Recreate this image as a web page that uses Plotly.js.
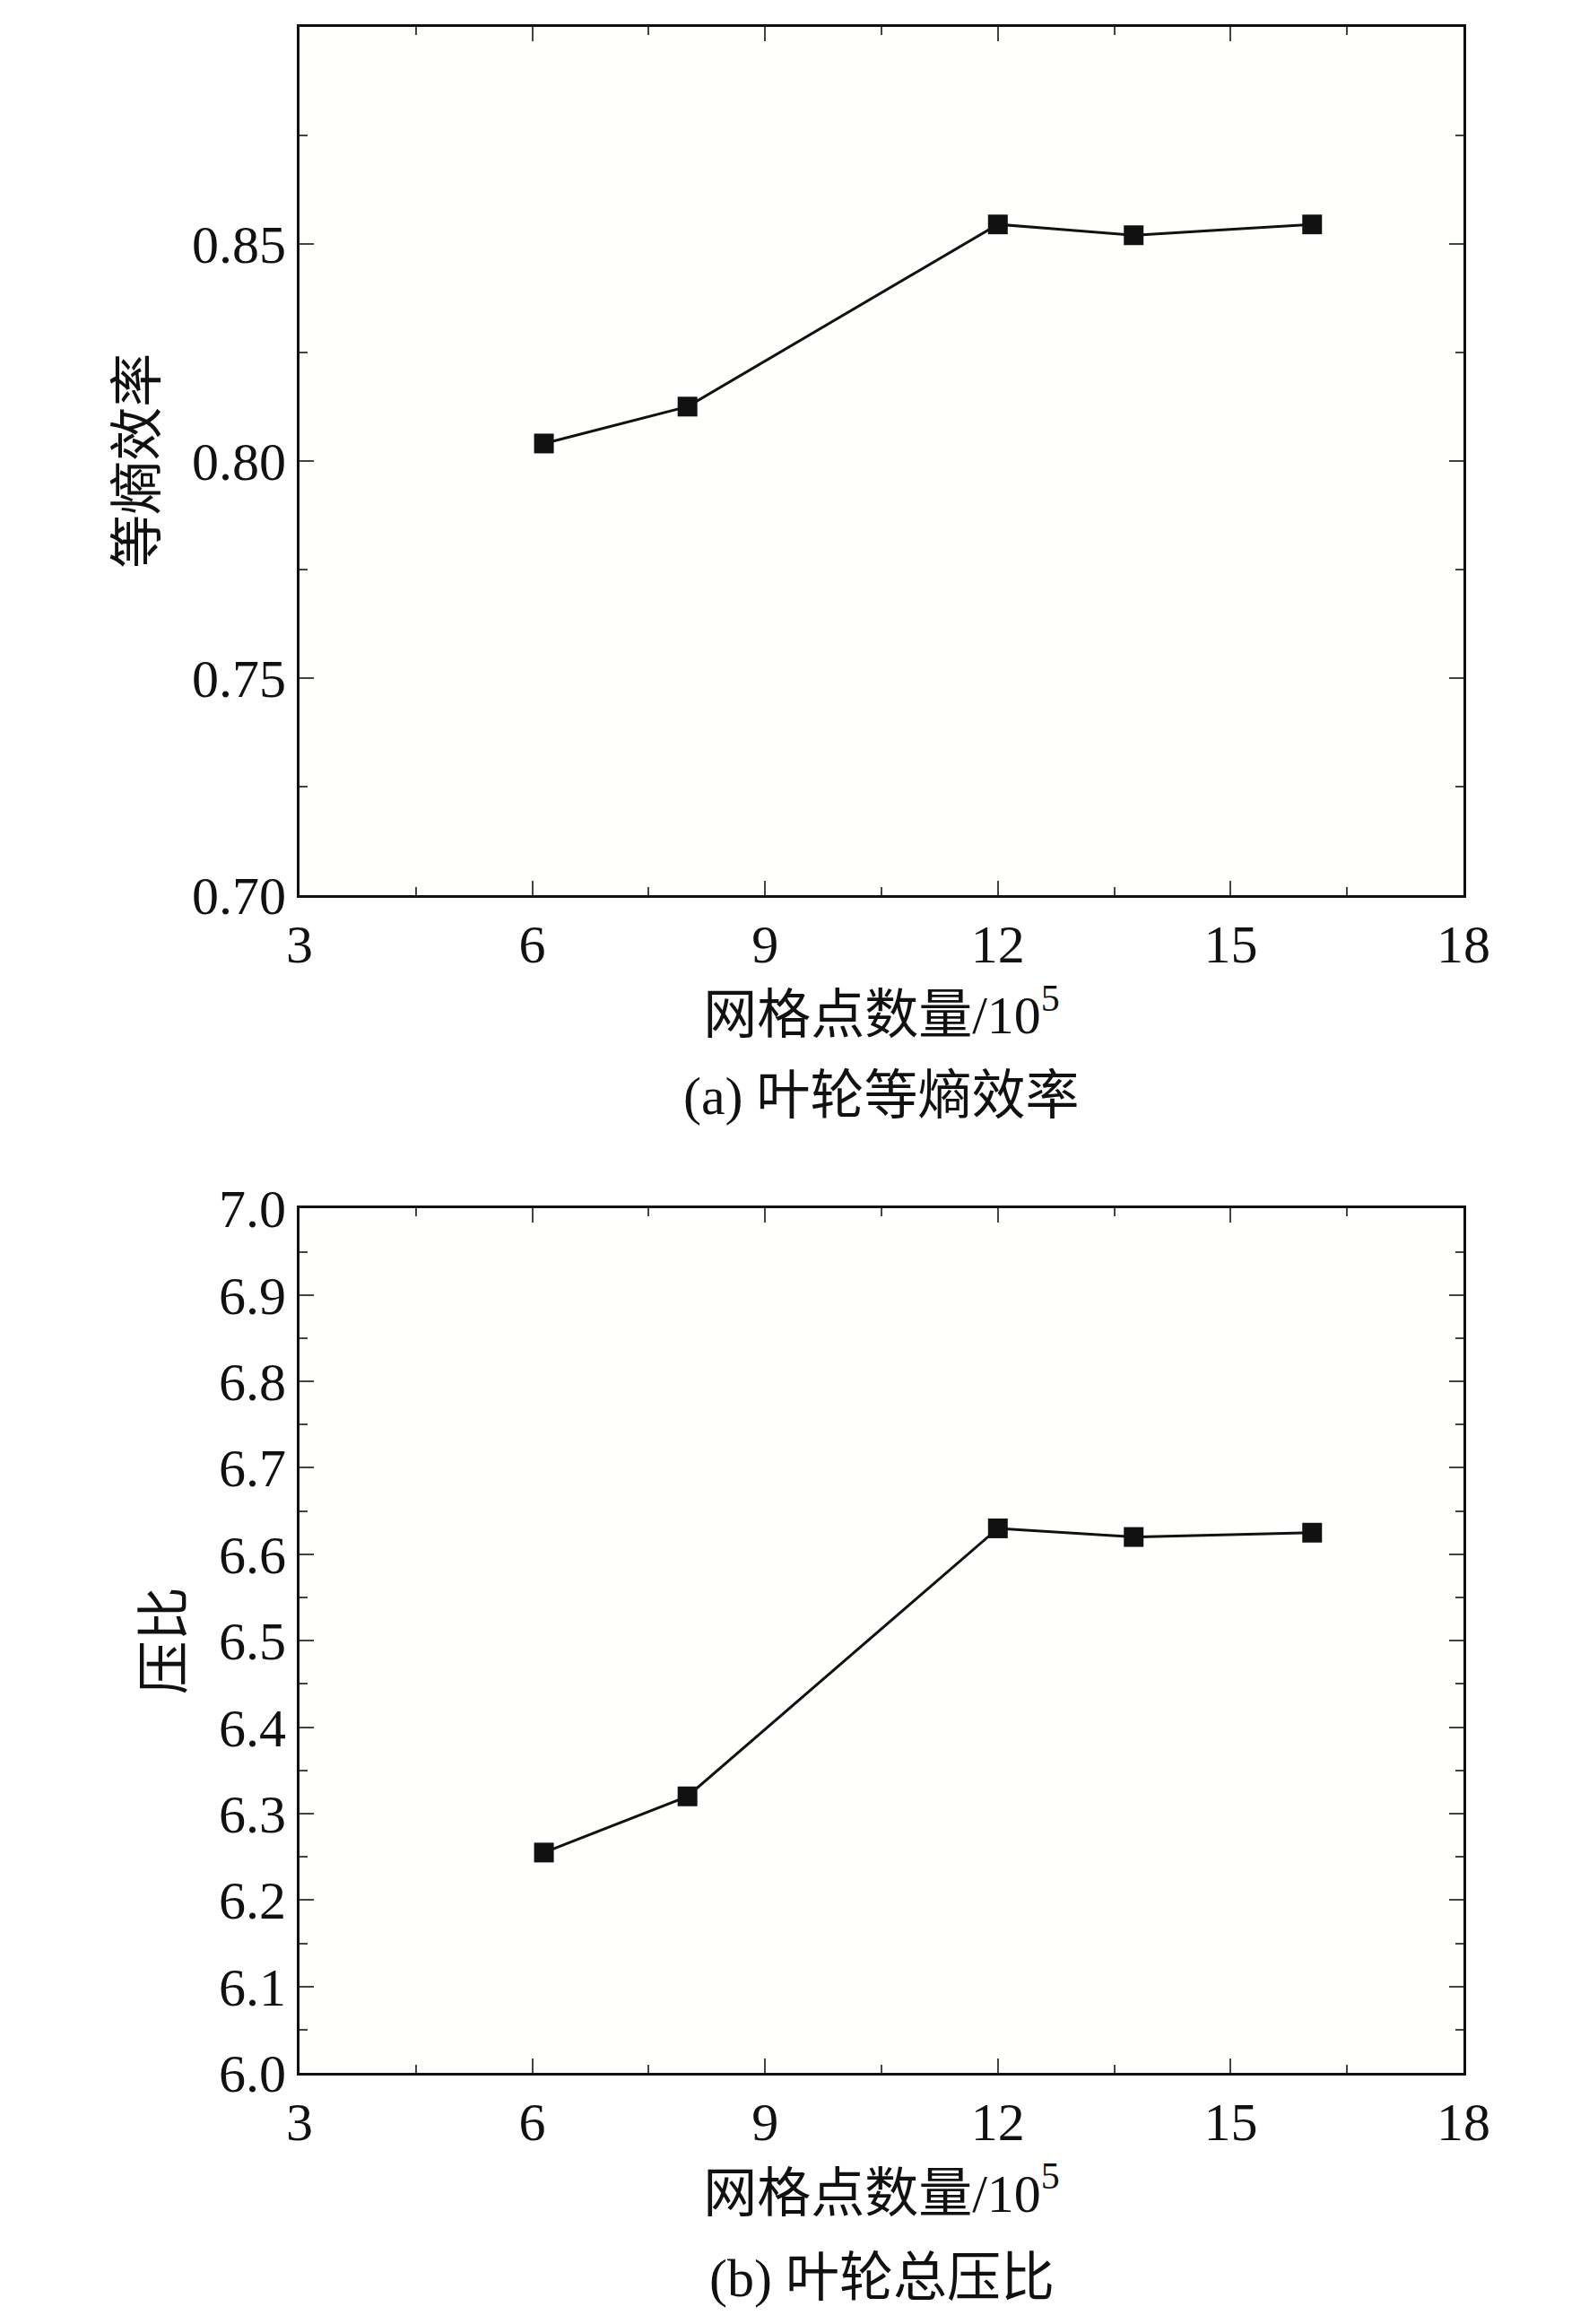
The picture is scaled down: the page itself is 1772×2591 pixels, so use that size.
<!DOCTYPE html>
<html><head><meta charset="utf-8">
<script src="https://cdn.plot.ly/plotly-3.0.1.min.js"></script>
<style>body{margin:0;background:#fff}</style></head>
<body><div id="c" style="width:1772px;height:2591px"></div>
<script>
const gridPoints = [6.15, 8.0, 12.0, 13.75, 16.05];
const efficiency = [0.804, 0.8125, 0.8545, 0.852, 0.8545];
const pressureRatio = [6.255, 6.32, 6.63, 6.62, 6.625];
const xTitle = '网格点数量/10<sup>5</sup>';
const captionA = '(a) 叶轮等熵效率';
const captionB = '(b) 叶轮总压比';
const yTitleA = '等熵效率';
const yTitleB = '压比';

const FONT = 'Liberation Serif, "Noto Sans CJK SC", serif';
const tf = {family: FONT, size: 60, color: '#111'};
function xa(anchor){return {anchor, range:[3,18], dtick:3, tick0:3, ticks:'inside', ticklen:16, tickwidth:2,
  mirror:'allticks', showline:true, linewidth:3, linecolor:'#111', showgrid:false, zeroline:false, tickfont:tf,
  minor:{dtick:1.5, tick0:3, ticks:'inside', ticklen:9, tickwidth:2, showgrid:false},
  title:{text:xTitle, font:tf, standoff:26}};}
function ya(anchor, domain, range, dtick, title, fmt){return {anchor, domain, range, dtick, tick0:range[0], ticks:'inside', ticklen:16, tickwidth:2,
  mirror:'allticks', showline:true, linewidth:3, linecolor:'#111', showgrid:false, zeroline:false, tickfont:tf, tickformat:fmt,
  minor:{dtick:dtick/2, ticks:'inside', ticklen:9, tickwidth:2, showgrid:false},
  title:{text:title, font:tf, standoff:20}};}
const mk = {symbol:'square', size:22, color:'#111'};
const ln = {color:'#111', width:3};
Plotly.newPlot('c', [
  {x:gridPoints, y:efficiency, xaxis:'x', yaxis:'y', mode:'lines+markers', marker:mk, line:ln},
  {x:gridPoints, y:pressureRatio, xaxis:'x2', yaxis:'y2', mode:'lines+markers', marker:mk, line:ln}
], {
  width:1772, height:2591, showlegend:false, paper_bgcolor:'#fff', plot_bgcolor:'#fffffd',
  margin:{l:334, r:140, t:0, b:0},
  xaxis: Object.assign(xa('y'), {domain:[0,1]}),
  yaxis: ya('x', [0.615, 0.9884], [0.70, 0.90], 0.05, yTitleA, '.2f'),
  xaxis2: Object.assign(xa('y2'), {domain:[0,1]}),
  yaxis2: ya('x2', [0.108, 0.480], [6.0, 7.0], 0.1, yTitleB, '.1f'),
  annotations:[
    {text:captionA, xref:'paper', yref:'paper', x:0.5, y:1-1222/2591, showarrow:false, font:tf, yanchor:'middle'},
    {text:captionB, xref:'paper', yref:'paper', x:0.5, y:1-2540/2591, showarrow:false, font:tf, yanchor:'middle'}
  ]
}, {displayModeBar:false});
</script></body></html>
